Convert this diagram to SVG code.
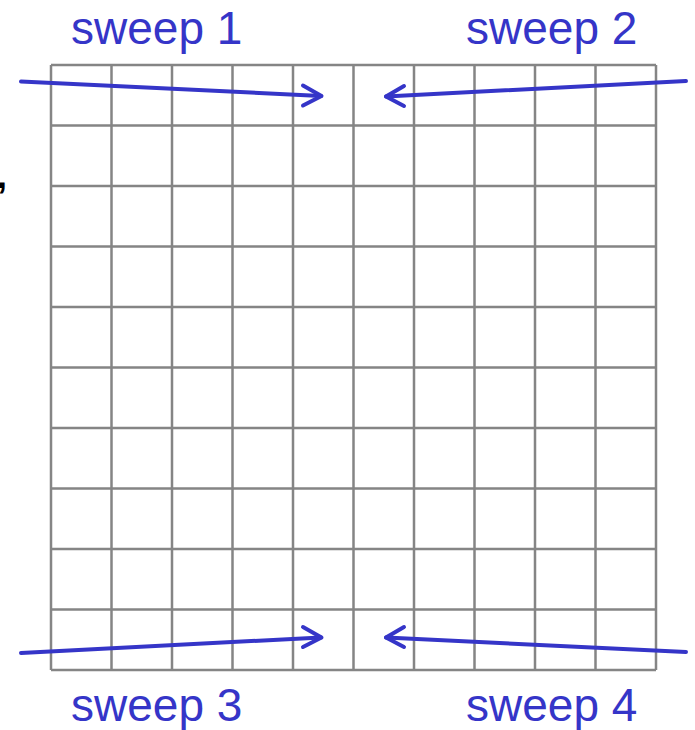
<svg xmlns="http://www.w3.org/2000/svg" width="695" height="730" viewBox="0 0 695 730">
<defs>
<style>
.grid line{stroke:#858585;stroke-width:2.5}
.lbl{font-family:"Liberation Sans",Arial,sans-serif;font-size:46px;fill:#3535c8}
.arr{stroke:#3535c8;stroke-width:4;fill:none;stroke-linecap:round;stroke-linejoin:round}
</style>
</defs>
<rect width="695" height="730" fill="#ffffff"/>
<g id="grid" class="grid">
<line x1="51" y1="65" x2="51" y2="670"/>
<line x1="111.5" y1="65" x2="111.5" y2="670"/>
<line x1="172" y1="65" x2="172" y2="670"/>
<line x1="232.5" y1="65" x2="232.5" y2="670"/>
<line x1="293" y1="65" x2="293" y2="670"/>
<line x1="353.5" y1="65" x2="353.5" y2="670"/>
<line x1="414" y1="65" x2="414" y2="670"/>
<line x1="474.5" y1="65" x2="474.5" y2="670"/>
<line x1="535" y1="65" x2="535" y2="670"/>
<line x1="595.5" y1="65" x2="595.5" y2="670"/>
<line x1="656" y1="65" x2="656" y2="670"/>
<line x1="51" y1="65" x2="656" y2="65"/>
<line x1="51" y1="125.5" x2="656" y2="125.5"/>
<line x1="51" y1="186" x2="656" y2="186"/>
<line x1="51" y1="246.5" x2="656" y2="246.5"/>
<line x1="51" y1="307" x2="656" y2="307"/>
<line x1="51" y1="367.5" x2="656" y2="367.5"/>
<line x1="51" y1="428" x2="656" y2="428"/>
<line x1="51" y1="488.5" x2="656" y2="488.5"/>
<line x1="51" y1="549" x2="656" y2="549"/>
<line x1="51" y1="609.5" x2="656" y2="609.5"/>
<line x1="51" y1="670" x2="656" y2="670"/>
</g>
<g id="labels">
<text id="sweep1" class="lbl" x="71" y="43.5">sweep 1</text>
<text id="sweep2" class="lbl" x="466" y="43.5">sweep 2</text>
<text id="sweep3" class="lbl" x="71" y="721">sweep 3</text>
<text id="sweep4" class="lbl" x="466" y="721">sweep 4</text>
<text id="mark" x="-3" y="188" font-family="Liberation Sans,Arial,sans-serif" font-size="36" font-weight="bold" fill="#000000">,</text>
</g>
<g id="connectors" class="arr">
<path d="M21 81.5 L321 96"/><path d="M303 85.5 L321.5 96 L303 105.5"/>
<path d="M686 81 L386 96.5"/><path d="M404 86 L386 96.5 L404 106"/>
<path d="M21 653 L321 637.5"/><path d="M303 627 L321.5 637.5 L303 647"/>
<path d="M686 652 L386 637.5"/><path d="M404 627 L386 637.5 L404 647"/>
</g>
</svg>
